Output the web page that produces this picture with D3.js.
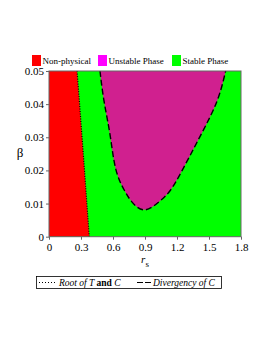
<!DOCTYPE html>
<html>
<head>
<meta charset="utf-8">
<script src="https://cdn.jsdelivr.net/npm/d3@7"></script>
<style>
  body { margin: 0; background: #fff; }
</style>
</head>
<body>
<svg id="chart" width="266" height="344"></svg>
<script>
// data
const xTicks = [0, 0.3, 0.6, 0.9, 1.2, 1.5, 1.8];
const yTicks = [0, 0.01, 0.02, 0.03, 0.04, 0.05];
// root of T and C (r_s, beta)
const rootR = [0.378, 0.355, 0.333, 0.31, 0.287, 0.263];
const rootB = [0, 0.01, 0.02, 0.03, 0.04, 0.05];
// divergency of C (r_s, beta)
const divR = [0.478, 0.516, 0.572, 0.626, 0.705, 0.775, 0.893, 1.035, 1.14, 1.255, 1.425, 1.575, 1.656];
const divB = [0.05, 0.0409, 0.0308, 0.0204, 0.0141, 0.0106, 0.0081, 0.0106, 0.0141, 0.0204, 0.0308, 0.0409, 0.05];
const legendItems = ['Non-physical', 'Unstable Phase', 'Stable Phase'];
const legendColors = ['#ff0000', '#ff00ff', '#00ff00'];

const FONT = '"Liberation Serif", "Times New Roman", "DejaVu Serif", serif';
const svg = d3.select('#chart').style('font-family', FONT);
const margin = { left: 49, right: 25, top: 71, bottom: 107.3 };
const w = 266 - margin.left - margin.right;
const h = 344 - margin.top - margin.bottom;

const x = d3.scaleLinear().domain([0, 1.8]).range([margin.left, margin.left + w]);
const y = d3.scaleLinear().domain([0, 0.05]).range([margin.top + h, margin.top]);

const rootPts = rootR.map((r, i) => [r, rootB[i]]);
const divPts = divR.map((r, i) => [r, divB[i]]);

// stable background
svg.append('rect')
  .attr('x', x(0)).attr('y', y(0.05))
  .attr('width', x(1.8) - x(0)).attr('height', y(0) - y(0.05))
  .attr('fill', '#00ff00');

// non-physical region
const redPoly = [[0, 0]].concat(rootPts).concat([[0, 0.05]]);
svg.append('path')
  .attr('d', d3.line().x(d => x(d[0])).y(d => y(d[1]))(redPoly) + 'Z')
  .attr('fill', '#ff0000');

// unstable region
const curve = d3.line().x(d => x(d[0])).y(d => y(d[1])).curve(d3.curveNatural);
svg.append('path')
  .attr('d', curve(divPts) + 'Z')
  .attr('fill', '#d0208f');

// boundary lines
svg.append('path')
  .attr('d', d3.line().x(d => x(d[0])).y(d => y(d[1]))(rootPts))
  .attr('fill', 'none').attr('stroke', '#000')
  .attr('stroke-width', 1.2).attr('stroke-dasharray', '1,1.5');

svg.append('path')
  .attr('d', curve(divPts))
  .attr('fill', 'none').attr('stroke', '#000')
  .attr('stroke-width', 1.4).attr('stroke-dasharray', '6,3');

// frame
svg.append('rect')
  .attr('x', x(0)).attr('y', y(0.05))
  .attr('width', x(1.8) - x(0)).attr('height', y(0) - y(0.05))
  .attr('fill', 'none').attr('stroke', '#666').attr('stroke-width', 1);

// axes
const xAxis = svg.append('g')
  .attr('transform', `translate(0,${y(0)})`)
  .call(d3.axisBottom(x).tickValues(xTicks).tickSize(3).tickPadding(4)
    .tickFormat(d => d === 0 ? '0' : d3.format('.1f')(d)));
const yAxis = svg.append('g')
  .attr('transform', `translate(${x(0)},0)`)
  .call(d3.axisLeft(y).tickValues(yTicks).tickSize(3).tickPadding(2)
    .tickFormat(d => d === 0 ? '0' : d3.format('.2f')(d)));
[xAxis, yAxis].forEach(a => {
  a.attr('font-family', null);
  a.select('.domain').remove();
  a.selectAll('line').attr('stroke', '#666');
  a.selectAll('text').attr('font-size', 11).attr('fill', '#000')
    .style('font-family', FONT);
});

// axis labels
const xl = svg.append('text')
  .attr('x', x(0.9)).attr('y', 263)
  .attr('text-anchor', 'middle').attr('font-size', 11);
xl.append('tspan').attr('font-style', 'italic').text('r');
xl.append('tspan').attr('dy', 4).attr('font-size', 9).text('s');

svg.append('text')
  .attr('x', 20).attr('y', 157)
  .attr('text-anchor', 'middle').attr('font-size', 13)
  .text('β');

// top legend
const legX = [32, 98, 172];
legendItems.forEach((name, i) => {
  svg.append('rect')
    .attr('x', legX[i]).attr('y', 55)
    .attr('width', 9).attr('height', 11)
    .attr('fill', legendColors[i]);
  svg.append('text')
    .attr('x', legX[i] + 10.5).attr('y', 64)
    .attr('font-size', 9).text(name);
});

// bottom legend
svg.append('rect')
  .attr('x', 36.5).attr('y', 276.5).attr('width', 185).attr('height', 12)
  .attr('fill', 'none').attr('stroke', '#000').attr('stroke-width', 0.8);
svg.append('line')
  .attr('x1', 39).attr('x2', 56).attr('y1', 282.5).attr('y2', 282.5)
  .attr('stroke', '#000').attr('stroke-width', 1).attr('stroke-dasharray', '1,2');
const t1 = svg.append('text').attr('x', 59).attr('y', 285.5).attr('font-size', 9.5);
t1.append('tspan').attr('font-style', 'italic').text('Root  of  T ');
t1.append('tspan').attr('font-weight', 'bold').text('and');
t1.append('tspan').attr('font-style', 'italic').text(' C');
svg.append('line')
  .attr('x1', 137).attr('x2', 152).attr('y1', 282.5).attr('y2', 282.5)
  .attr('stroke', '#000').attr('stroke-width', 1.2).attr('stroke-dasharray', '6,2');
svg.append('text').attr('x', 153).attr('y', 285.5).attr('font-size', 9.5)
  .attr('font-style', 'italic').text('Divergency  of  C');
</script>
</body>
</html>
